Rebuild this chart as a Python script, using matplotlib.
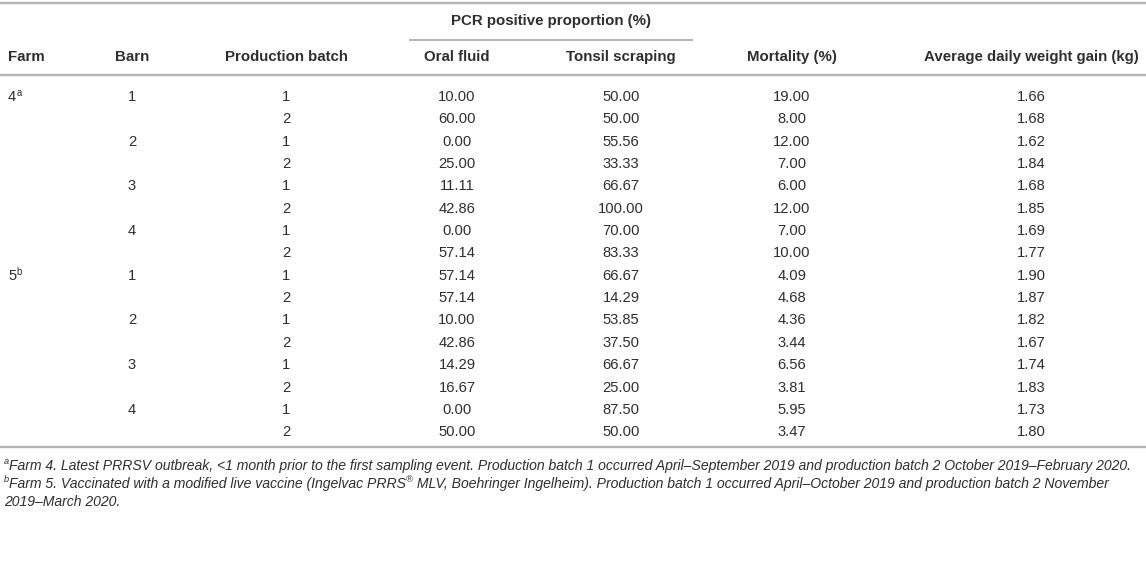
import matplotlib
matplotlib.use("Agg")
import matplotlib.pyplot as plt
from matplotlib import font_manager

# --- DATOS ---
farms = ["4", "", "", "", "", "", "", "", "5", "", "", "", "", "", "", ""]
farm_notes = ["a", "", "", "", "", "", "", "", "b", "", "", "", "", "", "", ""]
barns = ["1", "", "2", "", "3", "", "4", "", "1", "", "2", "", "3", "", "4", ""]
batches = ["1", "2"] * 8
oral_fluid = [10.00, 60.00, 0.00, 25.00, 11.11, 42.86, 0.00, 57.14,
              57.14, 57.14, 10.00, 42.86, 14.29, 16.67, 0.00, 50.00]
tonsil = [50.00, 50.00, 55.56, 33.33, 66.67, 100.00, 70.00, 83.33,
          66.67, 14.29, 53.85, 37.50, 66.67, 25.00, 87.50, 50.00]
mortality = [19.00, 8.00, 12.00, 7.00, 6.00, 12.00, 7.00, 10.00,
             4.09, 4.68, 4.36, 3.44, 6.56, 3.81, 5.95, 3.47]
adg = [1.66, 1.68, 1.62, 1.84, 1.68, 1.85, 1.69, 1.77,
       1.90, 1.87, 1.82, 1.67, 1.74, 1.83, 1.73, 1.80]

headers = ["Farm", "Barn", "Production batch", "Oral fluid", "Tonsil scraping",
           "Mortality (%)", "Average daily weight gain (kg)"]
group_header = "PCR positive proportion (%)"

nota_a = "Farm 4. Latest PRRSV outbreak, <1 month prior to the first sampling event. Production batch 1 occurred April–September 2019 and production batch 2 October 2019–February 2020."
nota_b1 = "Farm 5. Vaccinated with a modified live vaccine (Ingelvac PRRS"
nota_b2 = " MLV, Boehringer Ingelheim). Production batch 1 occurred April–October 2019 and production batch 2 November"
nota_b3 = "2019–March 2020."

# --- ESTILO ---
FUENTE = "Liberation Sans"
disponibles = {f.name for f in font_manager.fontManager.ttflist}
FUENTE_NOTA = "Liberation Sans Narrow" if "Liberation Sans Narrow" in disponibles else FUENTE
TXT = "#2e2e2e"
REGLA = "#b4b4b4"
FS = 10.6
FS_HEAD = 10.8

W, H = 1146, 588
fig = plt.figure(figsize=(W / 100, H / 100), dpi=100)
ax = fig.add_axes([0, 0, 1, 1])
ax.set_xlim(0, W)
ax.set_ylim(H, 0)
ax.axis("off")

# centros de columnas (en pixeles)
col_x = [8, 132, 286, 457, 621, 792, 1031]

# reglas horizontales
ax.plot([0, W], [3, 3], color=REGLA, lw=1.7)
ax.plot([410, 692], [40, 40], color=REGLA, lw=1.4)
ax.plot([0, W], [75, 75], color=REGLA, lw=1.7)
ax.plot([0, W], [447, 447], color=REGLA, lw=1.7)

# encabezados
ax.text(551, 21, group_header, ha="center", va="center", fontsize=FS_HEAD,
        fontweight="bold", color=TXT, family=FUENTE)
for i, h in enumerate(headers):
    ax.text(col_x[i], 57, h, ha="left" if i == 0 else "center", va="center",
            fontsize=FS_HEAD, fontweight="bold", color=TXT, family=FUENTE)

# filas
y0, dy = 97, 22.35
fig.canvas.draw()
renderer = fig.canvas.get_renderer()
for r in range(len(batches)):
    y = y0 + r * dy
    if farms[r]:
        t = ax.text(col_x[0], y, farms[r], ha="left", va="center",
                    fontsize=FS, color=TXT, family=FUENTE)
        bb = t.get_window_extent(renderer)
        ax.text(col_x[0] + bb.width + 0.5, y - 4, farm_notes[r], ha="left",
                va="center", fontsize=FS * 0.65, color=TXT, family=FUENTE)
    valores = [barns[r], batches[r], f"{oral_fluid[r]:.2f}", f"{tonsil[r]:.2f}",
               f"{mortality[r]:.2f}", f"{adg[r]:.2f}"]
    for j, v in enumerate(valores):
        ax.text(col_x[j + 1], y, v, ha="center", va="center", fontsize=FS,
                color=TXT, family=FUENTE)


# notas al pie, por partes para los superindices
def escribir(x, y, partes):
    for texto, tam, desp in partes:
        t = ax.text(x, y + desp, texto, ha="left", va="center", fontsize=tam,
                    style="italic", color=TXT, family=FUENTE_NOTA)
        x += t.get_window_extent(renderer).width
    return x


FN = 10.1
escribir(4, 466, [("a", FN * 0.65, -4), (nota_a, FN, 0)])
escribir(4, 484, [("b", FN * 0.65, -4), (nota_b1, FN, 0), ("®", FN * 0.65, -4),
                  (nota_b2, FN, 0)])
escribir(4, 502, [(nota_b3, FN, 0)])

fig.savefig("out.png", dpi=100, facecolor="white")
